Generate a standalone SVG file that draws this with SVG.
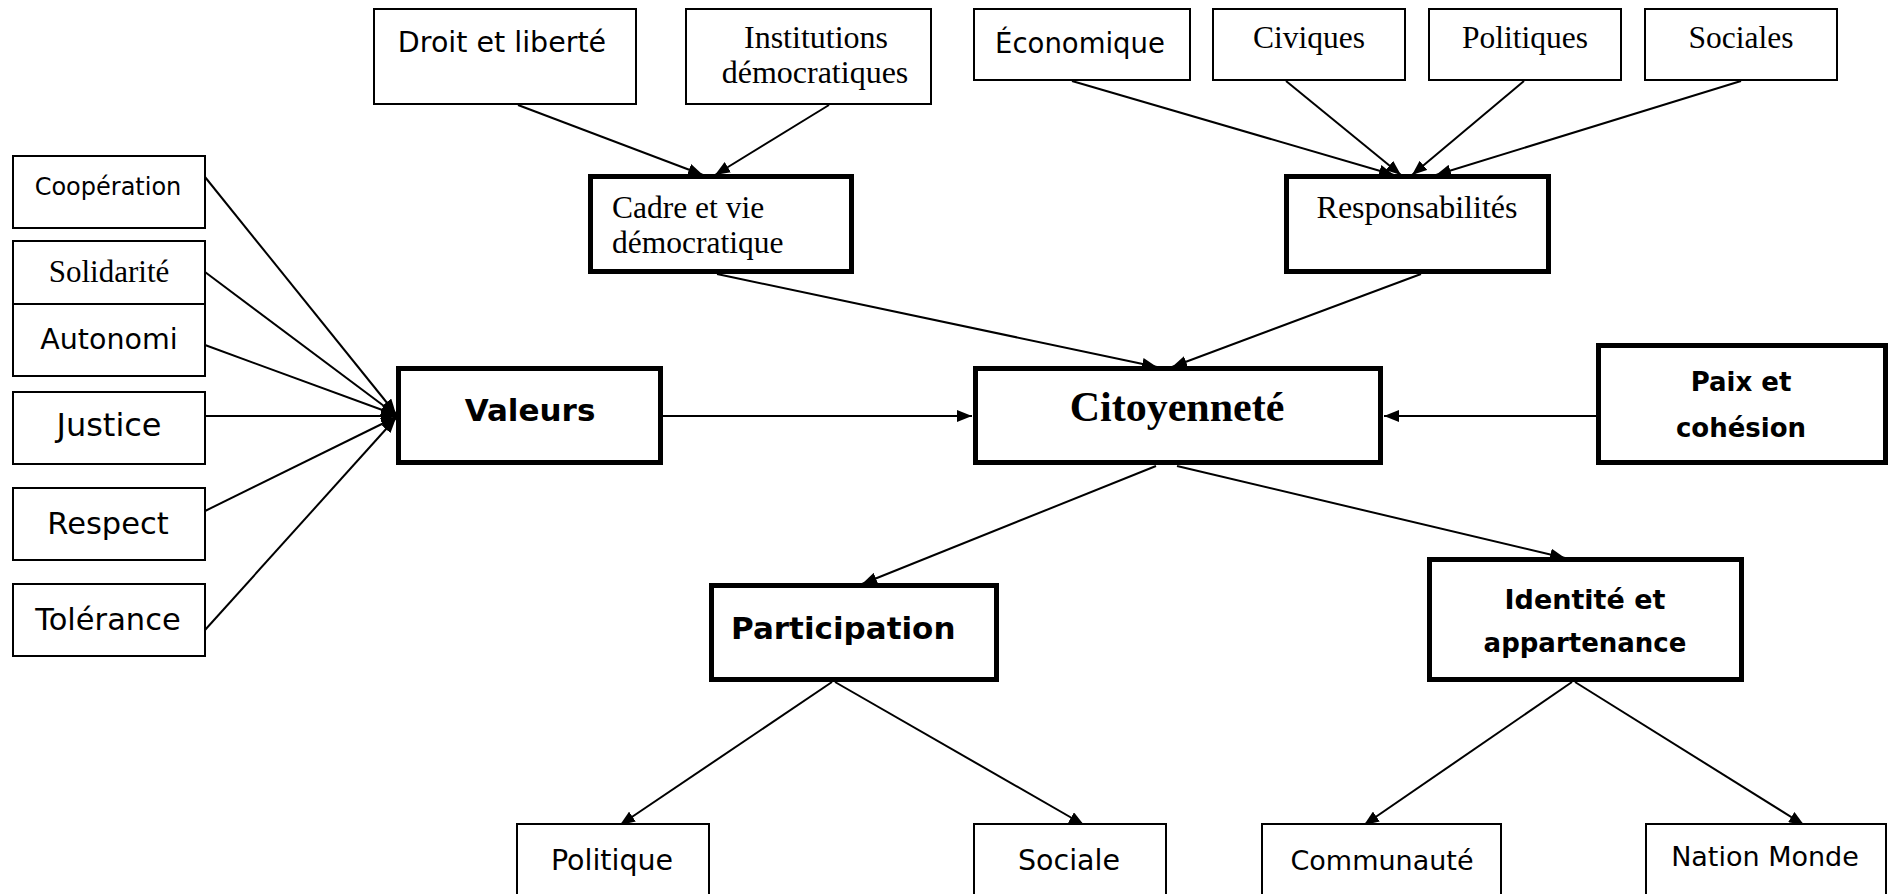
<svg xmlns="http://www.w3.org/2000/svg" width="1890" height="894" viewBox="0 0 1890 894">
<style>
.thin{fill:#fff;stroke:#000;stroke-width:2}
.thick{fill:#fff;stroke:#000;stroke-width:5}
.c{font-family:"DejaVu Sans",sans-serif;fill:#000}
.cb{font-family:"DejaVu Sans",sans-serif;font-weight:bold;fill:#000}
.s{font-family:"Liberation Serif",serif;fill:#000}
.sb{font-family:"Liberation Serif",serif;font-weight:bold;fill:#000}
.m{text-anchor:middle}
#connectors line{stroke:#000;stroke-width:2;marker-end:url(#arr)}
</style>
<defs>
<marker id="arr" markerUnits="userSpaceOnUse" markerWidth="16" markerHeight="12" refX="15" refY="6" orient="auto">
<path d="M0,0 L15,6 L0,12 z" fill="#000"/>
</marker>
</defs>
<rect width="1890" height="894" fill="#fff"/>
<g id="connectors">
<line x1="518" y1="105" x2="703" y2="175"/>
<line x1="829" y1="105" x2="715" y2="175"/>
<line x1="1072" y1="81" x2="1394" y2="175"/>
<line x1="1286" y1="81" x2="1401" y2="175"/>
<line x1="1524" y1="81" x2="1412" y2="175"/>
<line x1="1741" y1="81" x2="1436" y2="175"/>
<line x1="717" y1="274" x2="1157" y2="367"/>
<line x1="1421" y1="274" x2="1172" y2="367"/>
<line x1="663" y1="416" x2="972" y2="416"/>
<line x1="1596" y1="416" x2="1384" y2="416"/>
<line x1="1156" y1="466" x2="862" y2="584"/>
<line x1="1177" y1="466" x2="1565" y2="558"/>
<line x1="832" y1="682" x2="620" y2="825"/>
<line x1="835" y1="682" x2="1084" y2="825"/>
<line x1="1572" y1="682" x2="1364" y2="825"/>
<line x1="1575" y1="682" x2="1804" y2="825"/>
<line x1="205" y1="177" x2="396" y2="414"/>
<line x1="205" y1="272" x2="396" y2="415"/>
<line x1="205" y1="345" x2="396" y2="415"/>
<line x1="205" y1="416" x2="396" y2="416"/>
<line x1="205" y1="511" x2="396" y2="417"/>
<line x1="205" y1="630" x2="396" y2="418"/>
</g>
<g id="n-droit"><rect class="thin" x="374" y="9" width="262" height="95"/><text class="c m" x="502" y="52" font-size="28.5">Droit et liberté</text></g>
<g id="n-institutions"><rect class="thin" x="686" y="9" width="245" height="95"/><text class="s m" x="816" y="48" font-size="32">Institutions</text><text class="s m" x="815" y="83" font-size="32">démocratiques</text></g>
<g id="n-economique"><rect class="thin" x="974" y="9" width="216" height="71"/><text class="c m" x="1080" y="53" font-size="27.5">Économique</text></g>
<g id="n-civiques"><rect class="thin" x="1213" y="9" width="192" height="71"/><text class="s m" x="1309" y="48" font-size="31.5">Civiques</text></g>
<g id="n-politiques"><rect class="thin" x="1429" y="9" width="192" height="71"/><text class="s m" x="1525" y="48" font-size="31.5">Politiques</text></g>
<g id="n-sociales"><rect class="thin" x="1645" y="9" width="192" height="71"/><text class="s m" x="1741" y="48" font-size="31.5">Sociales</text></g>
<g id="n-cadre"><rect class="thick" x="590.5" y="176.5" width="261" height="95"/><text class="s" x="612" y="218" font-size="31.5">Cadre et vie</text><text class="s" x="612" y="253" font-size="31.5">démocratique</text></g>
<g id="n-resp"><rect class="thick" x="1286.5" y="176.5" width="262" height="95"/><text class="s m" x="1417" y="218" font-size="32">Responsabilités</text></g>
<g id="n-cooperation"><rect class="thin" x="13" y="156" width="192" height="72"/><text class="c m" x="108" y="195" font-size="24">Coopération</text></g>
<g id="n-solidarite"><rect class="thin" x="13" y="241" width="192" height="63"/><text class="s m" x="109" y="282" font-size="31">Solidarité</text></g>
<g id="n-autonomi"><rect class="thin" x="13" y="304" width="192" height="72"/><text class="c m" x="109" y="349" font-size="28.5">Autonomi</text></g>
<g id="n-justice"><rect class="thin" x="13" y="392" width="192" height="72"/><text class="c m" x="109" y="436" font-size="32">Justice</text></g>
<g id="n-respect"><rect class="thin" x="13" y="488" width="192" height="72"/><text class="c m" x="108" y="534" font-size="30.5">Respect</text></g>
<g id="n-tolerance"><rect class="thin" x="13" y="584" width="192" height="72"/><text class="c m" x="108" y="630" font-size="30.5">Tolérance</text></g>
<g id="n-valeurs"><rect class="thick" x="398.5" y="368.5" width="262" height="94"/><text class="cb m" x="530" y="421" font-size="31">Valeurs</text></g>
<g id="n-citoyennete"><rect class="thick" x="975.5" y="368.5" width="405" height="94"/><text class="sb m" x="1177" y="421" font-size="42">Citoyenneté</text></g>
<g id="n-paix"><rect class="thick" x="1598.5" y="345.5" width="287" height="117"/><text class="cb m" x="1741" y="391" font-size="26">Paix et</text><text class="cb m" x="1741" y="437" font-size="26">cohésion</text></g>
<g id="n-participation"><rect class="thick" x="711.5" y="585.5" width="285" height="94"/><text class="cb" x="731" y="639" font-size="31">Participation</text></g>
<g id="n-identite"><rect class="thick" x="1429.5" y="559.5" width="312" height="120"/><text class="cb m" x="1585" y="609" font-size="27">Identité et</text><text class="cb m" x="1585" y="652" font-size="26">appartenance</text></g>
<g id="n-politique"><rect class="thin" x="517" y="824" width="192" height="80"/><text class="c m" x="612" y="870" font-size="28.5">Politique</text></g>
<g id="n-sociale"><rect class="thin" x="974" y="824" width="192" height="80"/><text class="c m" x="1069" y="870" font-size="28.5">Sociale</text></g>
<g id="n-communaute"><rect class="thin" x="1262" y="824" width="239" height="80"/><text class="c m" x="1382" y="870" font-size="27">Communauté</text></g>
<g id="n-nation"><rect class="thin" x="1646" y="824" width="240" height="80"/><text class="c m" x="1765" y="866" font-size="27">Nation Monde</text></g>
</svg>
